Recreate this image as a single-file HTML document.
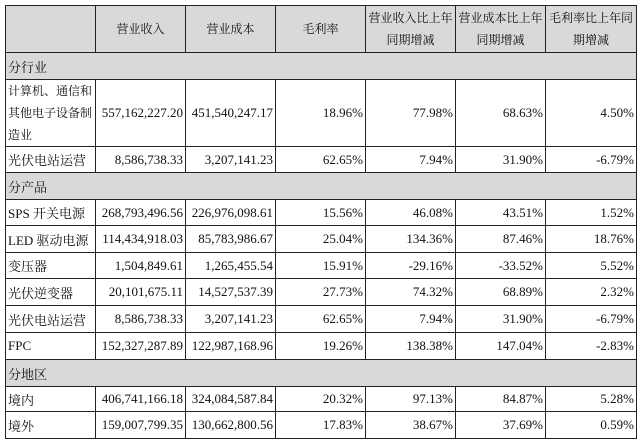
<!DOCTYPE html>
<html><head><meta charset="utf-8"><style>
body{margin:0;background:#fff;width:640px;height:444px;overflow:hidden}
table{position:absolute;left:5px;top:5px;width:631px;border-collapse:collapse;table-layout:fixed;font-family:"Liberation Serif","Noto Serif CJK SC",serif;font-size:13px;color:#111}
td{border:1px solid #222;padding:0 2px;overflow:hidden;white-space:nowrap;box-sizing:border-box}
td.r{text-align:right}
tr.g td{background:#d9d9d9}
tr.h td{background:#d9d9d9;text-align:center;line-height:22px;font-size:12px;padding:0}
</style></head><body>
<table>
<colgroup><col style="width:90px"><col style="width:90px"><col style="width:90px"><col style="width:90px"><col style="width:90px"><col style="width:90px"><col style="width:91px"></colgroup>
<tr class="h" style="height:47px"><td style="width:90px"></td><td style="width:90px">营业收入</td><td style="width:90px">营业成本</td><td style="width:90px">毛利率</td><td style="width:90px">营业收入比上年<br>同期增减</td><td style="width:90px">营业成本比上年<br>同期增减</td><td style="width:91px">毛利率比上年同<br>期增减</td></tr>
<tr class="g" style="height:27px"><td colspan="7">分行业</td></tr>
<tr style="height:66px"><td style="white-space:normal;line-height:22px;font-size:12px">计算机、通信和其他电子设备制造业</td><td class="r">557,162,227.20</td><td class="r">451,540,247.17</td><td class="r">18.96%</td><td class="r">77.98%</td><td class="r">68.63%</td><td class="r">4.50%</td></tr>
<tr style="height:26px"><td>光伏电站运营</td><td class="r">8,586,738.33</td><td class="r">3,207,141.23</td><td class="r">62.65%</td><td class="r">7.94%</td><td class="r">31.90%</td><td class="r">-6.79%</td></tr>
<tr class="g" style="height:27px"><td colspan="7">分产品</td></tr>
<tr style="height:26px"><td>SPS 开关电源</td><td class="r">268,793,496.56</td><td class="r">226,976,098.61</td><td class="r">15.56%</td><td class="r">46.08%</td><td class="r">43.51%</td><td class="r">1.52%</td></tr>
<tr style="height:27px"><td>LED 驱动电源</td><td class="r">114,434,918.03</td><td class="r">85,783,986.67</td><td class="r">25.04%</td><td class="r">134.36%</td><td class="r">87.46%</td><td class="r">18.76%</td></tr>
<tr style="height:26px"><td>变压器</td><td class="r">1,504,849.61</td><td class="r">1,265,455.54</td><td class="r">15.91%</td><td class="r">-29.16%</td><td class="r">-33.52%</td><td class="r">5.52%</td></tr>
<tr style="height:27px"><td>光伏逆变器</td><td class="r">20,101,675.11</td><td class="r">14,527,537.39</td><td class="r">27.73%</td><td class="r">74.32%</td><td class="r">68.89%</td><td class="r">2.32%</td></tr>
<tr style="height:27px"><td>光伏电站运营</td><td class="r">8,586,738.33</td><td class="r">3,207,141.23</td><td class="r">62.65%</td><td class="r">7.94%</td><td class="r">31.90%</td><td class="r">-6.79%</td></tr>
<tr style="height:27px"><td>FPC</td><td class="r">152,327,287.89</td><td class="r">122,987,168.96</td><td class="r">19.26%</td><td class="r">138.38%</td><td class="r">147.04%</td><td class="r">-2.83%</td></tr>
<tr class="g" style="height:27px"><td colspan="7">分地区</td></tr>
<tr style="height:25px"><td>境内</td><td class="r">406,741,166.18</td><td class="r">324,084,587.84</td><td class="r">20.32%</td><td class="r">97.13%</td><td class="r">84.87%</td><td class="r">5.28%</td></tr>
<tr style="height:27px"><td>境外</td><td class="r">159,007,799.35</td><td class="r">130,662,800.56</td><td class="r">17.83%</td><td class="r">38.67%</td><td class="r">37.69%</td><td class="r">0.59%</td></tr>
</table>
</body></html>
